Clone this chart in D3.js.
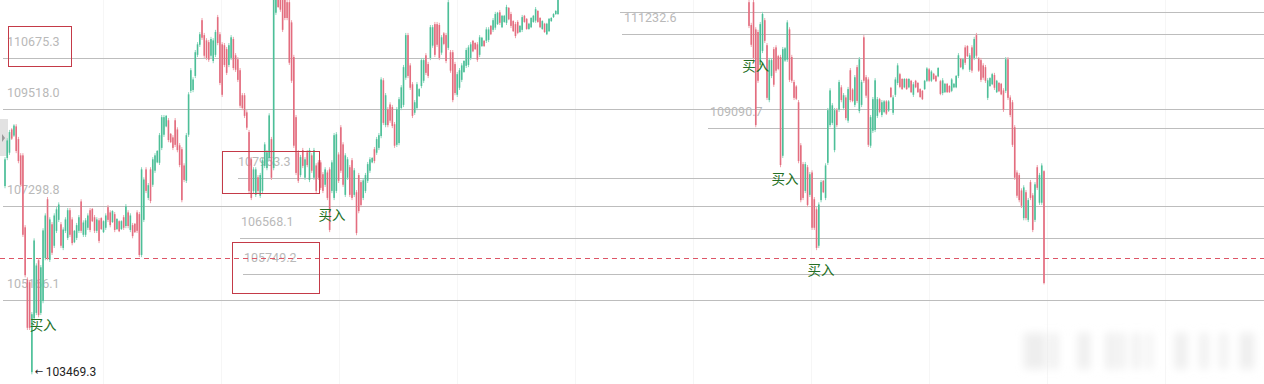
<!DOCTYPE html>
<html>
<head>
<meta charset="utf-8">
<script src="https://cdn.jsdelivr.net/npm/d3@7"></script>
<style>
  html, body { margin: 0; padding: 0; background: #fff; }
  svg { display: block; }
</style>
</head>
<body>
<svg id="vis" width="1264" height="384"></svg>
<script>
// Niveles horizontales (precio) y sus etiquetas
const levelPrices = [111726, 111232.6, 110675.3, 109518.0, 109090.7, 107953.3, 107298.8, 106568.1, 105749.2, 105166.1];
const levelLabels = ["", "111232.6", "110675.3", "109518.0", "109090.7", "107953.3", "107298.8", "106568.1", "105749.2", "105166.1"];
const markPrice = 106121;        // linea roja punteada
const lowPrice = 103469.3;       // minimo marcado
const buyLabel = "买入";

// Velas [open, high, low, close] - captura izquierda
const leftCandles = [
  [107760,108420,107710,108370],[108400,108850,108350,108800],[108520,109040,108470,108990],[109050,109080,108810,108840],
  [108910,109170,108880,109140],[109120,109170,108510,108560],[108830,108880,108280,108330],[108460,108510,107740,107790],
  [108460,108510,106600,106650],[106820,106870,105680,105730],[105630,105680,104480,104530],[105570,105620,104480,104530],
  [103520,104890,103469,104840],[104750,106570,104700,106520],[104870,106000,104820,105950],[106070,106120,104770,104820],
  [104870,105960,104820,105910],[105140,106800,105090,106750],[106120,107140,106070,107090],[107460,107510,106070,106120],
  [106080,107050,106030,107000],[106890,106940,106190,106240],[106400,107140,106350,107090],[106740,107280,106690,107230],
  [106990,107390,106940,107340],[106890,106940,106350,106400],[106350,106820,106300,106770],[106740,107050,106690,107000],
  [106580,107260,106530,107210],[107210,107260,106600,106650],[107000,107050,106410,106460],[106480,106760,106460,106740],
  [106580,106920,106530,106870],[106740,107100,106690,107050],[107410,107460,106690,106740],[106650,106980,106600,106930],
  [106650,107030,106600,106980],[106810,107140,106760,107090],[107210,107260,106710,106760],[107240,107260,106940,106960],
  [107050,107100,106690,106740],[106740,107050,106690,107000],[106980,107030,106460,106510],[107030,107050,106760,106780],
  [106710,106980,106690,106960],[106810,107140,106760,107090],[107280,107330,106940,106990],[107160,107210,106820,106870],
  [106940,107210,106920,107190],[107120,107170,106710,106760],[106780,107030,106760,107010],[106960,106980,106710,106730],
  [106780,106980,106760,106960],[107050,107100,106760,106810],[106850,107350,106800,107300],[107160,107210,106800,106850],
  [106760,107140,106710,107090],[106870,106920,106570,106620],[106900,106920,106690,106710],[107160,107210,106690,106740],
  [107120,107170,106140,106190],[106190,108190,106140,108140],[106990,107960,106940,107910],[108140,108190,107600,107650],
  [107490,107830,107440,107780],[108140,108190,107370,107420],[107790,108420,107740,108370],[108110,108510,108060,108460],
  [108300,108580,108280,108560],[108290,108970,108240,108920],[108630,109380,108580,109330],[108930,109380,108880,109330],
  [109120,109380,109100,109360],[109260,109310,108760,108810],[108950,108970,108740,108760],[108870,108920,108580,108630],
  [109260,109310,108650,108700],[109050,109100,108530,108580],[108690,108740,108190,108240],[108600,108650,107390,107440],
  [108230,108280,107850,107900],[107880,108970,107830,108920],[108930,109900,108880,109850],[109930,110450,109880,110400],
  [109950,110240,109900,110190],[110270,110860,110220,110810],[110750,111040,110700,110990],[110980,111270,110930,111220],
  [111540,111590,111090,111140],[111200,111250,110680,110730],[111080,111130,110630,110680],[111040,111090,110590,110640],
  [110730,111160,110680,111110],[110610,111130,110560,111080],[110750,111320,110700,111270],[111610,111660,110970,111020],
  [111220,111270,110060,110110],[110990,111040,109790,109840],[110970,111020,110470,110520],[110880,110930,110290,110340],
  [110520,111020,110470,110970],[110680,111200,110630,111150],[111110,111160,110400,110450],[110740,110790,110360,110410],
  [110650,110700,110130,110180],[110400,110450,109540,109590],[109830,109880,109490,109540],[109830,109880,109310,109360],
  [109440,109490,109040,109090],[108990,109040,107600,107650],[108370,108420,107440,107490],[107650,108190,107600,108140],
  [107560,108190,107510,108140],[107960,108010,107600,107650],[107540,108060,107490,108010],[107650,108400,107600,108350],
  [108220,108760,108170,108710],[108170,108580,108120,108530],[108400,109420,108350,109370],[108830,108880,107900,107950],
  [108170,112110,108120,112000],[111710,112110,111660,112060],[112060,112110,111820,111840],[112060,112110,111730,111780],
  [112060,112110,111270,111320],[112060,112110,111540,111590],[111950,112000,111540,111590],[111950,112000,110520,110570],
  [111490,111540,110110,110160],[110700,110750,108630,108680],[109330,109380,108010,108060],[108530,108580,107830,107880],
  [108010,108470,107960,108420],[108580,108630,108170,108220],[107950,108420,107900,108370],[108530,108580,108190,108240],
  [107900,108630,107850,108580],[108460,108510,108060,108110],[107950,108630,107900,108580],[108230,108280,107600,107650],
  [108300,108350,107900,107950],[108300,108350,107670,107720],[108030,108080,107600,107650],[107790,108190,107740,108140],
  [108070,108120,107440,107490],[108140,108190,106710,106760],[107650,108350,107600,108300],[107490,108970,107440,108920],
  [107650,108990,107600,108940],[108480,108530,107830,107880],[109100,109150,108060,108110],[108710,108760,107740,107790],
  [107560,108510,107510,108460],[107950,108420,107900,108370],[108190,108240,107510,107560],[108350,108400,107440,107490],
  [107560,108170,107510,108120],[107620,107670,106640,106690],[108010,108060,107140,107190],[107850,107900,107280,107330],
  [107490,107940,107440,107890],[107650,108060,107600,108010],[107880,108310,107830,108260],[108110,108420,108060,108370],
  [108300,108420,108280,108400],[108600,108650,108280,108330],[108520,108880,108470,108830],[108630,108970,108580,108920],
  [108900,110240,108850,110190],[110170,110220,109150,109200],[109150,109880,109100,109830],[109510,109560,109100,109150],
  [109620,109670,109200,109250],[109560,109610,109080,109130],[109170,109220,108630,108680],[108700,109560,108650,109510],
  [108740,109790,108690,109740],[109540,110060,109490,110010],[109610,110520,109560,110470],[110230,111250,110180,111200],
  [111200,111250,110220,110270],[110510,110560,109950,110000],[110080,110130,109310,109360],[109430,109720,109380,109670],
  [109540,110130,109490,110080],[109810,109990,109790,109970],[110040,110680,109990,110630],[110160,110680,110110,110630],
  [110740,110790,110290,110340],[110540,110590,110220,110270],[110680,111430,110630,111380],[110960,111430,110910,111380],
  [111450,111500,110700,110750],[111450,111500,110930,110980],[111430,111480,110630,110680],[110800,111200,110750,111150],
  [111240,111270,110970,111000],[111200,111250,110560,110610],[110910,112110,110860,111950],[110810,110860,110340,110390],
  [110810,110860,109670,109720],[110540,110590,109830,109880],[109840,110360,109790,110310],[110000,110450,109950,110400],
  [110180,110560,110130,110510],[110360,110630,110340,110610],[110500,110910,110450,110860],[110520,110970,110470,110920],
  [110680,111040,110630,110990],[111070,111090,110810,110830],[111020,111040,110860,110880],[110990,111040,110590,110640],
  [110750,111200,110700,111150],[110950,111160,110930,111140],[111070,111090,110930,110950],[111070,111380,111020,111330],
  [111090,111380,111040,111330],[111410,111430,111200,111220],[111320,111590,111270,111540],[111370,111730,111320,111680],
  [111450,111730,111430,111710],[111720,111770,111430,111480],[111380,111660,111360,111640],[111500,111660,111480,111640],
  [111480,111890,111430,111840],[111820,111840,111540,111560],[111680,111730,111360,111410],[111520,111540,111270,111290],
  [111450,111500,111130,111180],[111500,111540,111220,111250],[111270,111430,111250,111410],[111320,111660,111270,111610],
  [111640,111660,111480,111500],[111570,111590,111320,111340],[111340,111480,111320,111460],[111380,111610,111360,111590],
  [111500,111660,111480,111640],[111530,111840,111480,111790],[111750,111770,111480,111500],[111590,111610,111360,111380],
  [111340,111540,111320,111520],[111460,111480,111250,111270],[111220,111480,111200,111460],[111290,111590,111270,111570],
  [111520,111610,111500,111590],[111610,111700,111590,111680],[111680,111770,111660,111750],[111680,112110,111660,112000]
];

// Velas [open, high, low, close] - captura derecha
const rightCandles = [
  [111950,112000,111360,111410],[111430,111480,110930,110980],[111950,112000,110630,110680],[111330,111380,109100,109150],
  [111270,111320,110110,110160],[110520,111500,110470,111450],[110840,111730,110790,111680],[111540,111590,111020,111070],
  [110970,111020,109720,109770],[109720,110680,109670,110630],[110270,110680,110220,110630],[110880,110930,110020,110070],
  [110920,110970,110340,110390],[110720,110750,110400,110430],[110700,110750,108190,108240],[108450,110930,108400,110880],
  [110620,110930,110590,110900],[110640,111540,110590,111490],[111330,111380,110130,110180],[110700,110750,110110,110160],
  [110130,110180,109720,109770],[110030,110060,109720,109750],[109670,109720,108280,108330],[108690,108740,107390,107440],
  [108260,108310,107440,107490],[107650,108310,107600,108260],[108190,108240,107280,107330],[107560,108080,107510,108030],
  [108070,108120,106760,106810],[107460,107510,106760,106810],[107230,107280,106300,106350],[106400,107390,106350,107340],
  [107440,107900,107390,107850],[107880,107900,107600,107620],[107490,108280,107440,108230],[108290,109540,108240,109490],
  [109150,109990,109100,109940],[109200,109650,109150,109600],[108580,109540,108530,109490],[109490,109540,109100,109150],
  [109500,110180,109450,110130],[110010,110060,109670,109720],[109540,109880,109490,109830],[109780,109830,109260,109310],
  [109250,110020,109200,109970],[110400,110450,109670,109720],[109960,109990,109670,109700],[109610,110290,109560,110240],
  [110470,110520,109650,109700],[109470,110700,109420,110650],[109610,110180,109560,110130],[111150,111200,110110,110160],
  [110240,110290,109770,109820],[110190,110240,108650,108700],[108680,109380,108630,109330],[109020,109790,108970,109740],
  [109040,110220,108990,110170],[109360,109790,109310,109740],[109740,109770,109420,109450],[109380,109720,109330,109670],
  [109450,109720,109420,109690],[109690,109720,109380,109410],[109480,109720,109450,109690],[110000,110020,109770,109790],
  [109430,109830,109380,109780],[109840,110240,109790,110190],[110110,110560,110060,110510],[110310,110340,109990,110020],
  [110200,110220,109950,109970],[110010,110220,109990,110200],[110200,110220,109950,109970],[110010,110220,109990,110200],
  [110160,110180,109880,109900],[109840,110130,109790,110080],[110160,110180,109990,110010],[110110,110130,109880,109900],
  [109970,109990,109770,109790],[109930,109950,109720,109740],[109970,110180,109950,110160],[110160,110470,110130,110440],
  [110420,110450,110130,110160],[110160,110400,110130,110370],[110320,110340,110180,110200],[110270,110290,110130,110150],
  [110260,110470,110240,110450],[110150,110180,109830,109860],[109880,110220,109830,110170],[109900,110110,109880,110090],
  [110090,110110,109880,109900],[110040,110060,109880,109900],[109930,110220,109900,110190],[110010,110110,109990,110090],
  [110010,110290,109990,110270],[110270,110790,110220,110740],[110660,110680,110450,110470],[110430,110680,110400,110650],
  [110920,110970,110520,110570],[110950,110970,110700,110720],[110410,110790,110360,110740],[110920,110970,110340,110390],
  [110680,111160,110630,111110],[111200,111250,110680,110730],[110670,110700,110360,110390],[110630,110680,110130,110180],
  [110510,110560,110180,110230],[110470,110520,110110,110160],[109770,110220,109720,110170],[110040,110240,110020,110220],
  [110080,110340,110060,110310],[110290,110340,109950,110000],[109900,110180,109880,110160],[110110,110130,109900,109920],
  [110090,110110,109830,109850],[109940,109990,109450,109500],[109930,110700,109880,110650],[110650,110700,109720,109770],
  [109780,109830,109330,109380],[109670,109720,108650,108700],[109100,109150,107900,107950],[108070,108120,107490,107540],
  [108010,108060,107390,107440],[107660,107710,107260,107310],[107030,107780,106980,107730],[107620,107670,106980,107030],
  [106990,107490,106940,107440],[107850,107900,107440,107490],[107550,107600,106710,106760],[106990,107850,106940,107800],
  [108190,108240,107670,107720],[107380,108060,107330,108010],[107380,108280,107330,108230],[108100,108120,105520,105550]
];

// Marcas de compra: [panel, indice de vela, precio de la base del texto]
const buyPanels = ["left", "left", "right", "right", "right"];
const buyIndex = [11, 140, -3, 10, 26];
const buyPrices = [104480, 106990, 110380, 107810, 105730];

// ---- layout (no son datos) ----
const W = 1264, H = 384;
const levelStartX = [620, 622, 3, 3, 708, 238, 3, 240, 243, 3];
const labelX = [0, 624, 7, 7, 710, 238, 7, 241, 244, 7];
const boxes = [[8, 26, 63, 40], [222, 151, 97, 42], [232, 242, 87, 51]];
const vGrid = d3.range(103, W, 118);
const blurBars = [[1024, 22], [1050, 8], [1078, 12], [1106, 9], [1118, 7], [1133, 7], [1147, 5], [1175, 12], [1200, 8], [1220, 7], [1240, 14]];

const SVG = d3.select("#vis");
const FONT = "Roboto, Arial, sans-serif";

const y = d3.scaleLinear().domain([103250, 112000]).range([H, 0]);
const xLeft = d3.scaleLinear().domain([0, leftCandles.length - 1]).range([5, 558]);
const xRight = d3.scaleLinear().domain([0, rightCandles.length - 1]).range([749, 1044]);
const crisp = v => Math.round(v) + 0.5;

// rejilla vertical muy tenue
SVG.append("g").selectAll("line").data(vGrid).join("line")
  .attr("x1", d => d + 0.5).attr("x2", d => d + 0.5)
  .attr("y1", 0).attr("y2", H)
  .attr("stroke", "#f6f6f6");

// pestaña gris del borde izquierdo
SVG.append("rect").attr("x", 0).attr("y", 119).attr("width", 8).attr("height", 37).attr("fill", "#e2e2e2");
SVG.append("path").attr("d", "M2,134 L5,138 L2,142 Z").attr("fill", "#9a9a9a");

// lineas de nivel
SVG.append("g").selectAll("line").data(levelPrices).join("line")
  .attr("x1", (d, i) => levelStartX[i]).attr("x2", W)
  .attr("y1", d => crisp(y(d))).attr("y2", d => crisp(y(d)))
  .attr("stroke", "#bdbdbd").attr("stroke-width", 1);

// etiquetas de nivel
SVG.append("g").selectAll("text").data(levelPrices).join("text")
  .attr("x", (d, i) => labelX[i])
  .attr("y", d => y(d) - 12)
  .attr("font-family", FONT).attr("font-size", 12.5)
  .attr("fill", "#b9b9b9")
  .text((d, i) => levelLabels[i]);

// linea roja punteada
SVG.append("line")
  .attr("x1", 0).attr("x2", W)
  .attr("y1", crisp(y(markPrice))).attr("y2", crisp(y(markPrice)))
  .attr("stroke", "#dd5566").attr("stroke-width", 1)
  .attr("stroke-dasharray", "5,4");

// velas
function drawCandles(rows, x) {
  const g = SVG.append("g");
  const up = d => d[3] >= d[0];
  g.selectAll("line").data(rows).join("line")
    .attr("x1", (d, i) => x(i)).attr("x2", (d, i) => x(i))
    .attr("y1", d => y(d[1])).attr("y2", d => y(d[2]))
    .attr("stroke", d => up(d) ? "#8ad7bd" : "#efa0aa")
    .attr("stroke-width", 1);
  g.selectAll("rect").data(rows).join("rect")
    .attr("x", (d, i) => x(i) - 0.8)
    .attr("width", 1.6)
    .attr("y", d => y(Math.max(d[0], d[3])))
    .attr("height", d => Math.max(1, Math.abs(y(d[0]) - y(d[3]))))
    .attr("fill", d => up(d) ? "#4dbf98" : "#e36d7f");
}
drawCandles(leftCandles, xLeft);
drawCandles(rightCandles, xRight);

// minimo
const lowX = xLeft(12);
SVG.append("text").attr("x", lowX + 3).attr("y", y(lowPrice) + 1)
  .attr("font-family", "DejaVu Sans, sans-serif").attr("font-size", 10)
  .attr("fill", "#222").text("←");
SVG.append("text").attr("x", lowX + 14).attr("y", y(lowPrice) + 2)
  .attr("font-family", FONT).attr("font-size", 12)
  .attr("fill", "#222").text(lowPrice.toFixed(1));

// rectangulos rojos
SVG.append("g").selectAll("rect").data(boxes).join("rect")
  .attr("x", d => d[0] + 0.5).attr("y", d => d[1] + 0.5)
  .attr("width", d => d[2]).attr("height", d => d[3])
  .attr("fill", "none").attr("stroke", "#c43a48").attr("stroke-width", 1);

// textos de compra
SVG.append("g").selectAll("text").data(buyPrices).join("text")
  .attr("x", (d, i) => (buyPanels[i] === "left" ? xLeft : xRight)(buyIndex[i]))
  .attr("y", d => y(d))
  .attr("font-family", "Noto Sans CJK SC, sans-serif").attr("font-size", 13.5)
  .attr("fill", "#256f25")
  .text(buyLabel);

// marca de agua borrosa abajo a la derecha
const defs = SVG.append("defs");
defs.append("filter").attr("id", "blur")
  .attr("x", "-20%").attr("y", "-30%").attr("width", "140%").attr("height", "160%")
  .append("feGaussianBlur").attr("stdDeviation", 4);
SVG.append("g").attr("filter", "url(#blur)").selectAll("rect").data(blurBars).join("rect")
  .attr("x", d => d[0]).attr("y", 333).attr("width", d => d[1]).attr("height", 36)
  .attr("fill", "#e2e2e2").attr("opacity", 0.6);
</script>
</body>
</html>
